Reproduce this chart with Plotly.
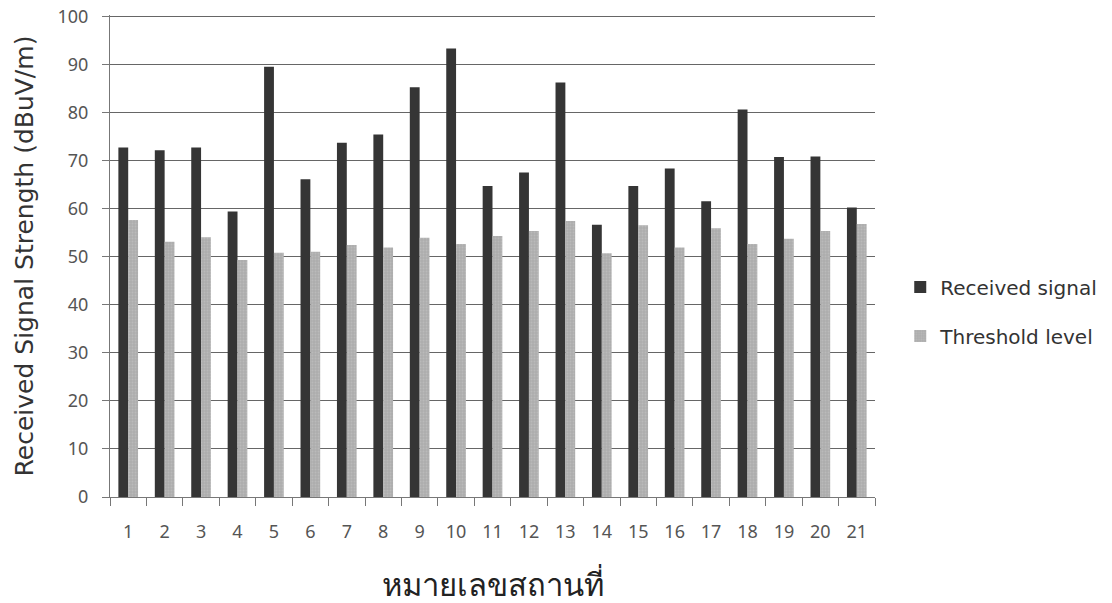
import plotly.graph_objects as go

stations = [str(i) for i in range(1, 22)]
received = [72.7, 72.1, 72.7, 59.4, 89.5, 66.1, 73.7, 75.4, 85.2, 93.3, 64.7,
            67.5, 86.2, 56.6, 64.7, 68.3, 61.5, 80.6, 70.7, 70.8, 60.2]
threshold = [57.6, 53.1, 54.0, 49.3, 50.8, 51.0, 52.4, 51.9, 53.9, 52.6, 54.3,
             55.3, 57.4, 50.7, 56.5, 51.9, 55.9, 52.6, 53.7, 55.3, 56.8]
y_ticks = list(range(0, 101, 10))

fig = go.Figure()
fig.add_trace(go.Bar(x=stations, y=received, name="Received signal",
                     marker=dict(color="#353535", line=dict(width=0)),
                     legendgroup="a"))
fig.add_trace(go.Bar(x=stations, y=threshold, name="Threshold level",
                     marker=dict(color="#adadad", line=dict(width=0),
                                 pattern=dict(shape=".", fgcolor="#c8c8c8", size=3, solidity=0.3)),
                     legendgroup="b"))

fig.update_layout(
    width=1112, height=603,
    margin=dict(l=110, r=237, t=15, b=106, autoexpand=False),
    paper_bgcolor="white", plot_bgcolor="white",
    barmode="group", bargap=0.46, bargroupgap=0,
    font=dict(family="DejaVu Sans", color="#333"),
    legend=dict(x=1.033, y=0.385, xanchor="left", yanchor="middle",
                font=dict(family="DejaVu Sans", size=20, color="#333"),
                tracegroupgap=20, itemwidth=30),
    xaxis=dict(
        automargin=False,
        tickmode="array", tickvals=stations, ticktext=stations,
        tickson="boundaries", ticks="outside", ticklen=8, tickcolor="#777",
        showline=True, linecolor="#777", linewidth=1,
        tickfont=dict(family="Liberation Sans Narrow, Noto Sans", size=18, color="#555"),
        ticklabelstandoff=18,
        title=dict(text="หมายเลขสถานที่", font=dict(size=31, color="#222"), standoff=36),
    ),
    yaxis=dict(
        automargin=False,
        range=[0, 100.25], tickvals=y_ticks, ticks="outside", ticklen=7, tickcolor="#777",
        showline=True, linecolor="#777", linewidth=1,
        showgrid=True, gridcolor="#666", gridwidth=1,
        tickfont=dict(family="Liberation Sans Narrow, Noto Sans", size=18, color="#555"),
        ticklabelstandoff=10, ticklabeloverflow="allow",
        title=dict(text="Received Signal Strength (dBuV/m)",
                   font=dict(family="DejaVu Sans", size=25, color="#333"), standoff=16),
    ),
)

fig.write_html("out.html", config={"displayModeBar": False},
               post_script="document.body.style.margin='0';")
